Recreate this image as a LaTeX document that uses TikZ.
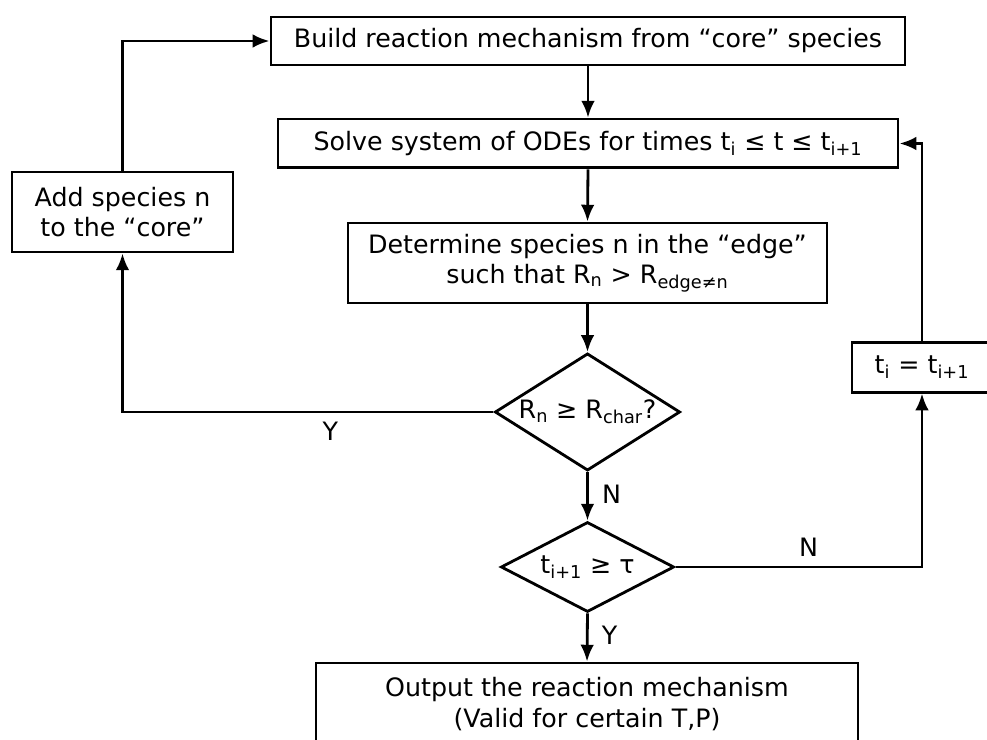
\documentclass[tikz,border=0pt]{standalone}
\usepackage{fontspec}
\setmainfont{DejaVu Sans}
\usepackage{tikz}
\usetikzlibrary{shapes,arrows.meta,positioning,calc}

\begin{document}
\begin{tikzpicture}[x=0.025cm, y=-0.025cm,
    block/.style={rectangle, draw=black, line width=2pt, align=center, inner sep=2pt, fill=white},
    decision/.style={diamond, draw=black, line width=2pt, inner sep=0pt, fill=white},
    arrow/.style={-{Latex[length=0.42cm, width=0.34cm]}, line width=2pt},
    every node/.style={font=\fontsize{18}{21.5}\selectfont}]

\useasboundingbox (0,0) rectangle (987,740);
\clip (0,0) rectangle (987,740);

% Main column, positions taken from the figure
\node[block, minimum width=15.85cm, minimum height=1.2cm] (build) at (588, 41) {Build reaction mechanism from ``core'' species};
\node[block, minimum width=15.5cm, minimum height=1.22cm] (solve) at (588, 143.5) {Solve system of ODEs for times t\textsubscript{i} ≤ t ≤ t\textsubscript{i+1}};
\node[block, minimum width=11.97cm, minimum height=2cm] (determ) at (587.5, 263) {Determine species n in the ``edge''\\such that R\textsubscript{n} > R\textsubscript{edge≠n}};
\node[decision, minimum width=4.63cm, minimum height=2.93cm] (rcheck) at (587.5, 412) {\makebox[0pt]{R\textsubscript{n} ≥ R\textsubscript{char}?}};
\node[decision, minimum width=4.33cm, minimum height=2.25cm] (tcheck) at (587.5, 567) {\makebox[0pt]{t\textsubscript{i+1} ≥ τ}};
\node[block, minimum width=13.55cm, minimum height=2.05cm] (output) at (587, 704) {Output the reaction mechanism\\(Valid for certain T,P)};

% Side boxes
\node[block, minimum width=5.52cm, minimum height=2cm] (addsp) at (122.5, 212) {Add species n\\to the ``core''};
\node[block, minimum width=3.5cm, minimum height=1.23cm] (tupd) at (922, 367.5) {t\textsubscript{i} = t\textsubscript{i+1}};

% Straight down the middle
\draw[arrow] (build.south) -- (solve.north);
\draw[arrow] (solve.south) -- (determ.north);
\draw[arrow] (determ.south) -- (rcheck.north);
\draw[arrow] (rcheck.south) -- (tcheck.north)
    node[pos=0.45, right=6pt] {N};
\draw[arrow] (tcheck.south) -- (output.north)
    node[pos=0.45, right=6pt] {Y};

% Loop back through the core (left side)
\draw[arrow] (rcheck.west) -| (addsp.south)
    node[pos=0.22, below=3pt] {Y};
\draw[arrow] (addsp.north) |- (build.west);

% Next time step (right side)
\draw[arrow] (tcheck.east) -| (tupd.south)
    node[pos=0.27, above=3pt] {N};
\draw[arrow] (tupd.north) |- (solve.east);

\end{tikzpicture}
\end{document}
